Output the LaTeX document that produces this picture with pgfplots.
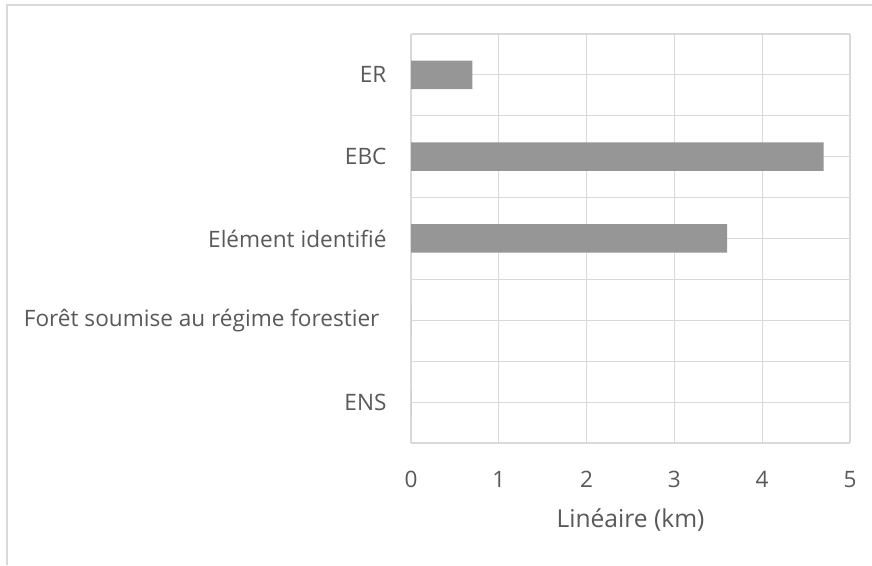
\documentclass[border=0pt]{standalone}
\usepackage{pgfplots}
\pgfplotsset{compat=1.18}
\usepackage{fontspec}
\setmainfont{Open Sans}
\definecolor{txt}{HTML}{595959}
\definecolor{grd}{HTML}{D9D9D9}
\definecolor{barc}{HTML}{969696}
\newcommand{\lblfont}{\fontsize{22.6}{27}\selectfont}
\newcommand{\ttlfont}{\fontsize{24.6}{29}\selectfont}
\begin{document}
\begin{tikzpicture}
\useasboundingbox (0,0) rectangle (872pt,565pt);
\fill[white] (0,0) rectangle (872pt,565pt);
\draw[grd, line width=1.5pt] (7pt,0) -- (7pt,560pt) -- (872pt,560pt);
\begin{axis}[
 at={(411pt,122pt)}, anchor=south west,
 scale only axis, width=439pt, height=409pt,
 xbar, bar width=28.5pt,
 xmin=0, xmax=5, xtick={0,1,2,3,4,5},
 ymin=-0.5, ymax=4.5, ytick={0,1,2,3,4},
 yticklabels={ENS, {Forêt soumise au régime forestier\kern7pt}, Elément identifié, EBC, ER},
 minor ytick={-0.5,0.5,1.5,2.5,3.5,4.5},
 xmajorgrids, ymajorgrids, yminorgrids,
 grid style={grd, line width=1.2pt}, minor grid style={grd, line width=1.2pt},
 axis line style={draw=none},
 major tick length=0pt, minor tick length=0pt,
 /pgf/number format/assume math mode=true,
 tick label style={font=\lblfont, text=txt},
 yticklabel style={xshift=-21pt},
 xticklabel style={yshift=-25pt},
 xlabel={Linéaire (km)},
 xlabel style={font=\ttlfont, text=txt, at={(axis description cs:0.5,0)}, anchor=north, yshift=-62pt},
]
\addplot[fill=barc, draw=none] coordinates {(0,0) (0,1) (3.6,2) (4.7,3) (0.7,4)};
\end{axis}
\end{tikzpicture}
\end{document}
